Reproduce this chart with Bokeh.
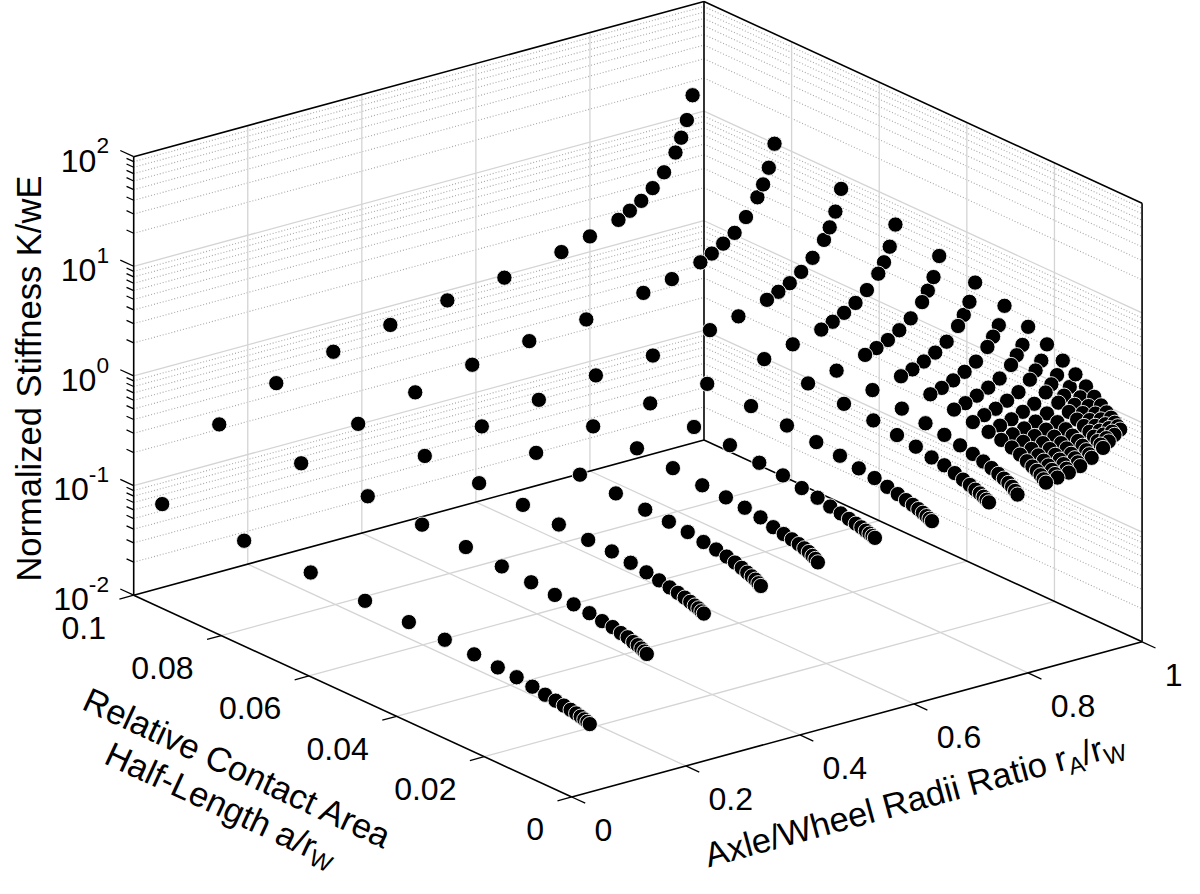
import math
from bokeh.plotting import figure
from bokeh.models import Range1d, ColumnDataSource
from bokeh.core.properties import value
from bokeh.embed import file_html
from bokeh.resources import INLINE

# ---------------- data ----------------
rA_rW = [0.05, 0.15, 0.25, 0.35, 0.45, 0.55, 0.65, 0.75, 0.80,
         0.85, 0.87, 0.89, 0.91, 0.93, 0.95, 0.96, 0.97, 0.98]
a_rW = [0.1, 0.0813, 0.0661, 0.0537, 0.0437, 0.0355, 0.0288, 0.0234, 0.0191,
        0.0155, 0.0126, 0.0102, 0.00832, 0.00676, 0.0055, 0.00447, 0.00363,
        0.00295, 0.0024]

# log10(K/wE) for each rA/rW, ordered like a_rW
logK_005 = [-1.24, -1.23, -1.24, -1.27, -1.28, -1.29, -1.30, -1.32, -1.33, -1.35, -1.37, -1.38, -1.39, -1.40, -1.41, -1.42, -1.43, -1.44, -1.45]
logK_015 = [-0.655, -0.665, -0.686, -0.717, -0.737, -0.763, -0.784, -0.80, -0.807, -0.821, -0.84, -0.85, -0.87, -0.88, -0.90, -0.91, -0.925, -0.94, -0.952]
logK_025 = [-0.42, -0.447, -0.46, -0.48, -0.494, -0.522, -0.539, -0.545, -0.569, -0.59, -0.61, -0.63, -0.645, -0.66, -0.675, -0.69, -0.70, -0.715, -0.725]
logK_035 = [-0.275, -0.301, -0.332, -0.345, -0.36, -0.38, -0.405, -0.415, -0.43, -0.455, -0.47, -0.49, -0.51, -0.53, -0.55, -0.565, -0.58, -0.60, -0.615]
logK_045 = [-0.172, -0.191, -0.231, -0.245, -0.261, -0.291, -0.324, -0.335, -0.35, -0.372, -0.408, -0.426, -0.44, -0.455, -0.47, -0.485, -0.505, -0.52, -0.541]
logK_055 = [-0.09, -0.117, -0.15, -0.177, -0.208, -0.223, -0.26, -0.276, -0.312, -0.334, -0.361, -0.38, -0.395, -0.41, -0.42, -0.432, -0.443, -0.452, -0.459]
logK_065 = [-0.024, -0.061, -0.11, -0.14, -0.159, -0.185, -0.213, -0.238, -0.274, -0.296, -0.323, -0.345, -0.365, -0.38, -0.395, -0.41, -0.425, -0.437, -0.448]
logK_075 = [0.068, 0.04, -0.02, -0.056, -0.094, -0.129, -0.157, -0.191, -0.218, -0.25, -0.268, -0.295, -0.32, -0.34, -0.36, -0.375, -0.39, -0.405, -0.419]
logK_080 = [0.14, 0.095, 0.035, 0.008, -0.048, -0.074, -0.12, -0.154, -0.181, -0.21, -0.235, -0.26, -0.285, -0.31, -0.33, -0.35, -0.37, -0.395, -0.418]
logK_085 = [0.22, 0.177, 0.115, 0.072, 0.025, -0.019, -0.06, -0.10, -0.135, -0.158, -0.178, -0.203, -0.233, -0.265, -0.29, -0.31, -0.335, -0.36, -0.38]
logK_087 = [0.275, 0.229, 0.16, 0.115, 0.059, 0.015, -0.03, -0.07, -0.10, -0.13, -0.155, -0.18, -0.21, -0.24, -0.265, -0.29, -0.315, -0.34, -0.362]
logK_089 = [0.337, 0.291, 0.21, 0.168, 0.104, 0.059, 0.01, -0.03, -0.07, -0.10, -0.13, -0.155, -0.185, -0.21, -0.24, -0.265, -0.29, -0.32, -0.345]
logK_091 = [0.425, 0.361, 0.285, 0.23, 0.165, 0.112, 0.06, 0.015, -0.025, -0.06, -0.095, -0.125, -0.155, -0.185, -0.21, -0.24, -0.265, -0.29, -0.314]
logK_093 = [0.541, 0.477, 0.385, 0.319, 0.245, 0.183, 0.125, 0.07, 0.025, -0.015, -0.05, -0.085, -0.115, -0.145, -0.17, -0.195, -0.22, -0.245, -0.267]
logK_095 = [0.693, 0.629, 0.52, 0.44, 0.365, 0.298, 0.23, 0.165, 0.11, 0.06, 0.02, -0.02, -0.055, -0.085, -0.115, -0.14, -0.165, -0.185, -0.205]
logK_096 = [0.814, 0.732, 0.62, 0.53, 0.455, 0.385, 0.31, 0.24, 0.18, 0.12, 0.07, 0.03, -0.01, -0.045, -0.075, -0.10, -0.12, -0.14, -0.16]
logK_097 = [0.961, 0.87, 0.75, 0.658, 0.565, 0.49, 0.40, 0.32, 0.255, 0.19, 0.135, 0.085, 0.04, 0.0, -0.03, -0.055, -0.075, -0.095, -0.114]
logK_098 = [1.173, 1.075, 0.943, 0.846, 0.743, 0.652, 0.563, 0.471, 0.39, 0.308, 0.236, 0.17, 0.11, 0.06, 0.02, -0.01, -0.04, -0.06, -0.08]
logK_columns = [logK_005, logK_015, logK_025, logK_035, logK_045, logK_055,
                logK_065, logK_075, logK_080, logK_085, logK_087, logK_089,
                logK_091, logK_093, logK_095, logK_096, logK_097, logK_098]

x_ticks = [0, 0.2, 0.4, 0.6, 0.8, 1.0]
x_tick_labels = ["0", "0.2", "0.4", "0.6", "0.8", "1"]
y_ticks = [0, 0.02, 0.04, 0.06, 0.08, 0.1]
y_tick_labels = ["0", "0.02", "0.04", "0.06", "0.08", "0.1"]
z_decades = [-2, -1, 0, 1, 2]

x_lim = (0.0, 1.0)
y_lim = (0.0, 0.1)
z_lim = (-2.0, 2.0)  # log10

# ---------------- 3-D view (orthographic, reference pixel units) ----------------
O = (579.0, 811.0)        # position of (x=0, y=0, z=1e-2)
EX = (578.0, -158.0)      # full x range
EY = (-444.0, -205.5)     # full y range
EZ = (0.0, -446.5)        # full z range
DEPTH = (412.0, 543.0, -170.0)


def norm(x, y, lz):
    return ((x - x_lim[0]) / (x_lim[1] - x_lim[0]),
            (y - y_lim[0]) / (y_lim[1] - y_lim[0]),
            (lz - z_lim[0]) / (z_lim[1] - z_lim[0]))


def scr(x, y, lz):
    X, Y, Z = norm(x, y, lz)
    u = O[0] + X * EX[0] + Y * EY[0] + Z * EZ[0]
    v = O[1] + X * EX[1] + Y * EY[1] + Z * EZ[1]
    return u, v


def d(u, v):  # view space -> plot data (y up)
    return u, -v


def proj(x, y, lz):
    return d(*scr(x, y, lz))


REF_W, REF_H = 1200, 894
W, H = 1184, 878
S = W / REF_W   # screen px per view unit
p = figure(width=W, height=H, x_range=Range1d(0, REF_W), y_range=Range1d(-REF_H, 0),
           output_backend="svg", toolbar_location=None,
           x_axis_type=None, y_axis_type=None, min_border=0,
           outline_line_color=None, background_fill_color="white",
           border_fill_color="white")
p.min_border_left = p.min_border_right = p.min_border_top = p.min_border_bottom = 0

FONT = value("Liberation Sans")
GRID = "#d4d4d4"
MINOR = "#a6a6a6"

# ---------------- grids ----------------
maj_xs, maj_ys, min_xs, min_ys = [], [], [], []


def seg(lst_x, lst_y, a, b):
    lst_x.append([a[0], b[0]])
    lst_y.append([a[1], b[1]])


x0, x1 = x_lim
y0, y1 = y_lim
z0, z1 = z_lim
for xt in x_ticks[1:-1]:
    seg(maj_xs, maj_ys, proj(xt, y0, z0), proj(xt, y1, z0))   # floor
    seg(maj_xs, maj_ys, proj(xt, y1, z0), proj(xt, y1, z1))   # back-left wall
for yt in y_ticks[1:-1]:
    seg(maj_xs, maj_ys, proj(x0, yt, z0), proj(x1, yt, z0))   # floor
    seg(maj_xs, maj_ys, proj(x1, yt, z0), proj(x1, yt, z1))   # back-right wall
for dz in z_decades[1:-1]:
    seg(maj_xs, maj_ys, proj(x0, y1, dz), proj(x1, y1, dz))
    seg(maj_xs, maj_ys, proj(x1, y1, dz), proj(x1, y0, dz))
minor_levels = [dz + math.log10(m) for dz in z_decades[:-1] for m in range(2, 10)]
for lz in minor_levels:
    seg(min_xs, min_ys, proj(x0, y1, lz), proj(x1, y1, lz))
    seg(min_xs, min_ys, proj(x1, y1, lz), proj(x1, y0, lz))

p.multi_line(min_xs, min_ys, line_color=MINOR, line_width=1.1, line_dash="1 2")
p.multi_line(maj_xs, maj_ys, line_color=GRID, line_width=1.3)

# ---------------- box edges ----------------
C = {}
for xi in (0, 1):
    for yi in (0, 1):
        for zi in (0, 1):
            C[(xi, yi, zi)] = proj(x_lim[xi], y_lim[yi], z_lim[zi])
edges = [((0, 1, 0), (0, 1, 1)), ((0, 1, 0), (0, 0, 0)), ((0, 0, 0), (1, 0, 0)),
         ((1, 0, 0), (1, 0, 1)), ((0, 1, 1), (1, 1, 1)), ((1, 1, 1), (1, 0, 1)),
         ((1, 1, 0), (1, 1, 1)), ((0, 1, 0), (1, 1, 0)), ((1, 1, 0), (1, 0, 0))]
ex_, ey_ = [], []
for a, b in edges:
    seg(ex_, ey_, C[a], C[b])
p.multi_line(ex_, ey_, line_color="black", line_width=1.6)

# ---------------- ticks ----------------


def unit(v):
    l = math.hypot(v[0], v[1])
    return v[0] / l, v[1] / l


uY = unit(EY)
uX = unit(EX)
tx, ty = [], []
TL, TLm = 15.0, 8.0
for dz in z_decades:
    u, v = scr(x0, y1, dz)
    seg(tx, ty, d(u, v), d(u + uY[0] * TL, v + uY[1] * TL))
for lz in minor_levels:
    u, v = scr(x0, y1, lz)
    seg(tx, ty, d(u, v), d(u + uY[0] * TLm, v + uY[1] * TLm))
for xt in x_ticks:
    u, v = scr(xt, y0, z0)
    seg(tx, ty, d(u, v), d(u - uY[0] * TL, v - uY[1] * TL))
for yt in y_ticks:
    u, v = scr(x0, yt, z0)
    seg(tx, ty, d(u, v), d(u - uX[0] * TL, v - uX[1] * TL))
p.multi_line(tx, ty, line_color="black", line_width=1.3)

# ---------------- data points ----------------
pts = []
for i, xr in enumerate(rA_rW):
    for j, ar in enumerate(a_rW):
        lz = logK_columns[i][j]
        X, Y, Z = norm(xr, ar, lz)
        depth = DEPTH[0] * X + DEPTH[1] * Y + DEPTH[2] * Z
        u, v = proj(xr, ar, lz)
        pts.append((depth, u, v, xr, ar, 10 ** lz))
pts.sort(key=lambda t: -t[0])
src = ColumnDataSource(dict(u=[t[1] for t in pts], v=[t[2] for t in pts],
                            ratio=[t[3] for t in pts], a=[t[4] for t in pts],
                            K=[t[5] for t in pts]))
p.scatter("u", "v", source=src, marker="circle", size=15.5 * S,
          fill_color="black", line_color="white", line_width=0.9)

# ---------------- texts ----------------
CW = {' ': 278, '/': 278, '-': 333, '.': 278, 'A': 667, 'C': 722, 'E': 667, 'H': 722,
      'K': 667, 'L': 556, 'N': 722, 'R': 722, 'S': 667, 'W': 944, 'a': 556, 'c': 500,
      'd': 556, 'e': 556, 'f': 278, 'g': 556, 'h': 556, 'i': 222, 'l': 222, 'm': 833,
      'n': 556, 'o': 556, 'r': 333, 's': 500, 't': 278, 'v': 500, 'w': 722, 'x': 500,
      'z': 500}


def tw(s, fs):
    return sum(CW.get(c, 556) for c in s) * fs / 1000.0


def put(x, y, s, fs, angle=0.0, align="left", baseline="alphabetic"):
    p.text([x], [y], text=[s], angle=angle, text_font=FONT,
           text_font_size=f"{fs * S:.2f}px", text_color="black",
           text_align=align, text_baseline=baseline)


TFS = 32.5
AFS = 35
SFS = 23

# tick labels
for xt, lab in zip(x_ticks, x_tick_labels):
    u, v = scr(xt, y0, z0)
    put(*d(u + 23, v + 34), lab, TFS, align="left", baseline="middle")
for yt, lab in zip(y_ticks, y_tick_labels):
    u, v = scr(x0, yt, z0)
    put(*d(u - 28, v + 33), lab, TFS, align="right", baseline="middle")
for dz in z_decades:
    u, v = scr(x0, y1, dz)
    sup = str(dz)
    xa = u - 25 - tw(sup, SFS)
    put(*d(xa, v + 4), "10", TFS, align="right")
    put(*d(xa, v - 11), sup, SFS, align="left")


def rich_line(center_view, pieces, angle):
    """pieces: list of (text, size, drop); drawn along a rotated baseline."""
    dx, dy = math.cos(angle), math.sin(angle)       # data coords (y up)
    nx, ny = -dy, dx
    total = sum(tw(t, fs) for t, fs, _ in pieces)
    cx, cy = d(*center_view)
    bx = cx - nx * 0.358 * AFS - dx * total / 2
    by = cy - ny * 0.358 * AFS - dy * total / 2
    s = 0.0
    for t, fs, drop in pieces:
        put(bx + dx * s - nx * drop, by + dy * s - ny * drop, t, fs, angle=angle)
        s += tw(t, fs)


SUB = 24
SUBDROP = 10
# z title
put(29, -385, "Normalized Stiffness K/wE", AFS, angle=math.pi / 2, align="center")
# y title (two lines, along the y axis)
ang_y = math.atan2(EY[1], -EY[0])  # direction L->F with y up
rich_line((246, 770), [("Relative Contact Area", AFS, 0)], ang_y)
rich_line((229, 807), [("Half-Length a/r", AFS, 0), ("W", SUB, SUBDROP)], ang_y)
# x title
ang_x = math.atan2(-EX[1], EX[0])
rich_line((923, 801), [("Axle/Wheel Radii Ratio r", AFS, 0), ("A", SUB, SUBDROP),
                       ("/r", AFS, 0), ("W", SUB, SUBDROP)], ang_x)

open("out.html", "w").write(file_html(p, INLINE))
